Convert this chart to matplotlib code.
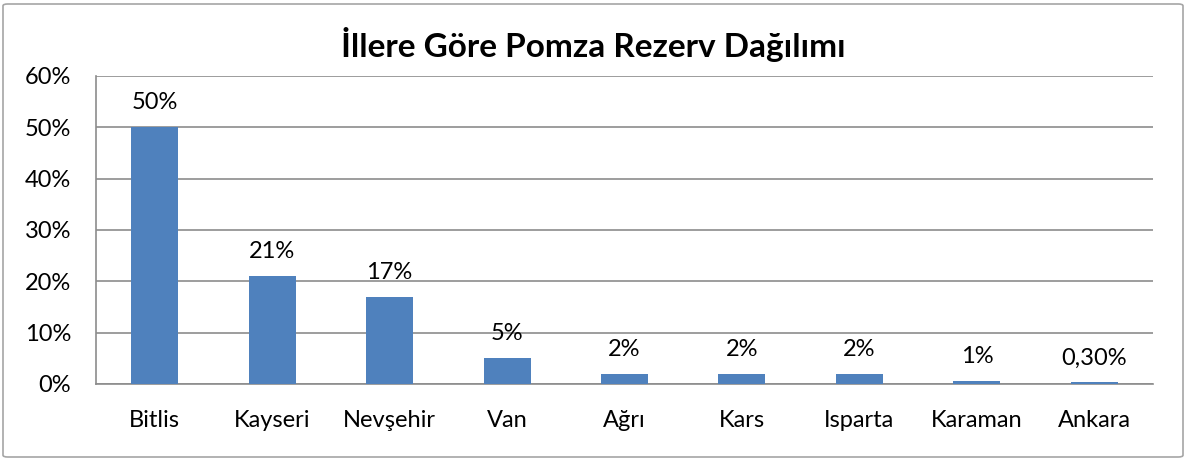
import matplotlib
matplotlib.use("Agg")
import matplotlib.pyplot as plt
from matplotlib.patches import FancyBboxPatch

categories = ["Bitlis", "Kayseri", "Nevşehir", "Van", "Ağrı", "Kars", "Isparta", "Karaman", "Ankara"]
values = [50, 21, 17, 5, 2, 2, 2, 0.6, 0.3]
value_labels = ["50%", "21%", "17%", "5%", "2%", "2%", "2%", "1%", "0,30%"]
yticks = [0, 10, 20, 30, 40, 50, 60]
ytick_labels = ["0%", "10%", "20%", "30%", "40%", "50%", "60%"]
title = "İllere Göre Pomza Rezerv Dağılımı"

plt.rcParams['font.family'] = ['Lato', 'DejaVu Sans']

W, H = 1188, 459
fig = plt.figure(figsize=(W / 100, H / 100), dpi=100)

# outer chart border
border = FancyBboxPatch((3 / W, 2 / H), (W - 8) / W, (H - 6) / H,
                        boxstyle="round,pad=0,rounding_size=0.004",
                        transform=fig.transFigure, fill=False,
                        edgecolor="#A6A6A6", linewidth=1.2)
fig.add_artist(border)

left, right = 96, 1153
top, bottom = 76, 384
ax = fig.add_axes([left / W, 1 - bottom / H, (right - left) / W, (bottom - top) / H])

FS = 17
x = range(len(categories))
ax.bar(x, values, width=0.40, color="#4F81BD", zorder=3)
ax.set_xlim(-0.5, len(categories) - 0.5)
ax.set_ylim(0, 60)
ax.set_yticks(yticks)
ax.set_yticklabels(ytick_labels, fontsize=FS)
ax.set_xticks(list(x))
ax.set_xticklabels(categories, fontsize=FS)
ax.tick_params(axis='x', length=0, pad=19)
ax.tick_params(axis='y', length=0, pad=18)
ax.grid(axis='y', color="#8C8C8C", linewidth=1.2, zorder=0)
for s in ["top", "right"]:
    ax.spines[s].set_visible(False)
ax.spines["left"].set_color("#8C8C8C")
ax.spines["bottom"].set_color("#8C8C8C")
ax.spines["left"].set_linewidth(1.2)
ax.spines["bottom"].set_linewidth(1.2)

for xi, v, lab in zip(x, values, value_labels):
    ax.annotate(lab, (xi, v), xytext=(0, 10), textcoords="offset points",
                ha="center", va="bottom", fontsize=FS)

fig.text(593 / W, 1 - 45 / H, title, ha="center", va="center",
         fontsize=24, fontweight="bold")

fig.savefig("out.png", dpi=100)
